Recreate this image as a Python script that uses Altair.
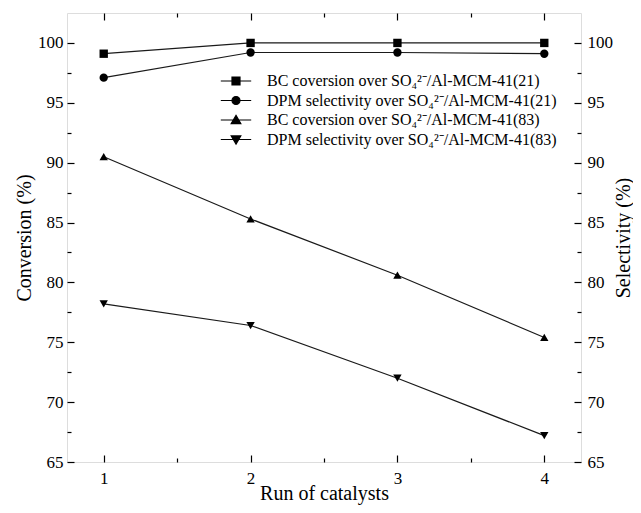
import altair as alt
import pandas as pd

runs = [1, 2, 3, 4]
series_names = [
    "BC coversion over SO\u2084\u00b2\u207b/Al-MCM-41(21)",
    "DPM selectivity over SO\u2084\u00b2\u207b/Al-MCM-41(21)",
    "BC coversion over SO\u2084\u00b2\u207b/Al-MCM-41(83)",
    "DPM selectivity over SO\u2084\u00b2\u207b/Al-MCM-41(83)",
]
bc_21 = [99.1, 100.0, 100.0, 100.0]
dpm_21 = [97.1, 99.2, 99.2, 99.1]
bc_83 = [90.5, 85.3, 80.6, 75.4]
dpm_83 = [78.2, 76.4, 72.0, 67.2]

x_major = [1, 2, 3, 4]
x_minor = [1.5, 2.5, 3.5]
y_major = [65, 70, 75, 80, 85, 90, 95, 100]
y_minor = [67.5, 72.5, 77.5, 82.5, 87.5, 92.5, 97.5]

rows = []
for name, vals in zip(series_names, [bc_21, dpm_21, bc_83, dpm_83]):
    for r, v in zip(runs, vals):
        rows.append({"run": r, "value": v, "series": name})
df = pd.DataFrame(rows)

FONT = "Liberation Serif"
xscale = alt.Scale(domain=[0.75, 4.25], nice=False, zero=False)
yscale = alt.Scale(domain=[65, 102.5], nice=False, zero=False)

def ax(**kw):
    base = dict(domain=False, grid=False, labelFont=FONT, labelFontSize=17, labelColor="black",
                tickColor="black", tickWidth=1.2, titleFont=FONT, titleFontSize=20,
                titleFontWeight="normal", titleColor="black", zindex=2)
    base.update(kw)
    return alt.Axis(**base)

shape_plain = alt.Scale(domain=series_names,
                        range=["square", "circle", "triangle-up", "triangle-down"])
# legend glyphs: marker part (filled) and line-through part (outline)
marker_paths = [
    "M-1,-1H1V1H-1Z",
    "M-1,0A1,1 0 1,0 1,0A1,1 0 1,0 -1,0Z",
    "M0,-1.15L1.2,0.9H-1.2Z",
    "M0,1.15L1.2,-0.9H-1.2Z",
]
shape_legend_fill = alt.Scale(domain=series_names, range=marker_paths)
shape_legend_line = alt.Scale(domain=series_names,
                              range=["M-3.8,0H3.8" + p for p in marker_paths])

LEG_X, LEG_Y = 161, 60

def legend(label_opacity):
    return alt.Legend(title=None, orient="none", legendX=LEG_X, legendY=LEG_Y,
                      padding=0, symbolSize=64, symbolOpacity=1,
                      symbolFillColor="black", symbolStrokeColor="black",
                      symbolStrokeWidth=1.2, labelFont=FONT, labelFontSize=16,
                      labelColor="black", labelOpacity=label_opacity, labelOffset=23,
                      rowPadding=3.5, labelLimit=400)

base = alt.Chart(df)

lines = base.mark_line(color="#1a1a1a", strokeWidth=1.2).encode(
    x=alt.X("run:Q", scale=xscale,
            axis=ax(orient="bottom", values=x_major, format="d", offset=-7, tickSize=7,
                    labelPadding=8, title="Run of catalysts", titlePadding=-3)),
    y=alt.Y("value:Q", scale=yscale,
            axis=ax(orient="left", values=y_major, format="d", offset=-7, tickSize=7,
                    labelPadding=4, title="Conversion (%)", titlePadding=3)),
    detail="series:N",
)

points = base.mark_point(filled=True, color="black", opacity=1, size=70).encode(
    x=alt.X("run:Q", scale=xscale,
            axis=ax(orient="top", values=x_major, offset=-7, tickSize=7, labels=False, title=None)),
    y=alt.Y("value:Q", scale=yscale,
            axis=ax(orient="right", values=y_major, format="d", offset=-7, tickSize=7,
                    labelPadding=6, title="Selectivity (%)", titleAngle=270,
                    titleBaseline="top", titlePadding=1)),
    shape=alt.Shape("series:N", scale=shape_plain, legend=None),
)

minor_a = base.mark_point(filled=True, color="black", opacity=0).encode(
    x=alt.X("run:Q", scale=xscale,
            axis=ax(orient="bottom", values=x_minor, offset=-4, tickSize=4, labels=False, title=None)),
    y=alt.Y("value:Q", scale=yscale,
            axis=ax(orient="left", values=y_minor, offset=-4, tickSize=4, labels=False, title=None)),
    shape=alt.Shape("series:N", scale=shape_legend_fill, sort=series_names, legend=legend(0)),
)

minor_b = base.mark_point(color="black", opacity=0).encode(
    x=alt.X("run:Q", scale=xscale,
            axis=ax(orient="top", values=x_minor, offset=-4, tickSize=4, labels=False, title=None)),
    y=alt.Y("value:Q", scale=yscale,
            axis=ax(orient="right", values=y_minor, offset=-4, tickSize=4, labels=False, title=None)),
    shape=alt.Shape("series:N", scale=shape_legend_line, sort=series_names, legend=legend(1)),
)

chart = alt.layer(lines, points, minor_a, minor_b).resolve_axis(
    x="independent", y="independent"
).resolve_scale(shape="independent").properties(
    width=514, height=449,
    autosize=alt.AutoSizeParams(type="none"),
    padding={"left": 59, "top": 5, "right": 52, "bottom": 43},
).configure_view(stroke="black", strokeWidth=1.2).configure_axis(
    labelFont=FONT, titleFont=FONT
).configure(
    background="white", font=FONT,
    style={"guide-label": {"font": FONT}, "guide-title": {"font": FONT}},
)

chart.save("out.html", embed_options={"renderer": "svg", "actions": False})
